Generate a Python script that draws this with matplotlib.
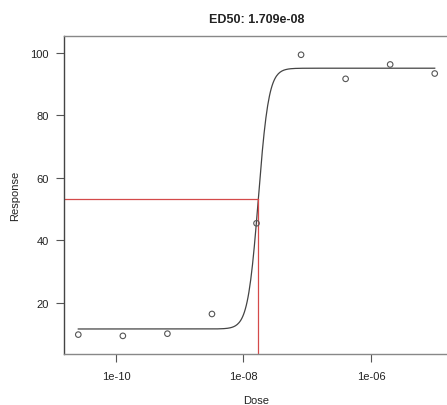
import matplotlib
matplotlib.use("Agg")
import matplotlib.pyplot as plt
import numpy as np

plt.rcParams['font.family'] = ['Liberation Sans', 'DejaVu Sans']

# measured dose / response points
dose = [2.56e-11, 1.28e-10, 6.4e-10, 3.2e-09, 1.6e-08, 8e-08, 4e-07, 2e-06, 1e-05]
response = [9.9, 9.5, 10.2, 16.5, 45.5, 99.4, 91.7, 96.3, 93.4]

# fitted 4-parameter logistic model
bottom = 11.7
top = 95.1
ed50 = 1.709e-08
hill = 5.3

xticks = [1e-10, 1e-08, 1e-06]
xticklabels = ['1e-10', '1e-08', '1e-06']
yticks = [20, 40, 60, 80, 100]

fig = plt.figure(figsize=(4.47, 4.06), dpi=100)
ax = fig.add_axes([64 / 447, 1 - 355 / 406, (449 - 64) / 447, (355 - 37) / 406])

xs = np.logspace(np.log10(dose[0]), np.log10(dose[-1]), 400)
ys = bottom + (top - bottom) / (1 + (ed50 / xs) ** hill)
ax.plot(xs, ys, color='#444444', lw=0.9)
ax.scatter(dose, response, s=16, facecolors='none', edgecolors='#555555', linewidths=0.8, zorder=3)

mid = (bottom + top) / 2
red = '#d44a4a'
ax.plot([10 ** -10.816, ed50], [mid, mid], color=red, lw=0.9)
ax.plot([ed50, ed50], [3.7, mid], color=red, lw=0.9)

ax.set_xscale('log')
ax.set_xlim(10 ** -10.816, 10 ** -4.776)
ax.set_ylim(3.7, 105.4)
ax.set_xticks(xticks)
ax.set_xticklabels(xticklabels)
ax.minorticks_off()
ax.set_yticks(yticks)

for side in ['top', 'bottom', 'right']:
    ax.spines[side].set_color('#888888')
ax.spines['left'].set_color('#444444')
for s in ax.spines.values():
    s.set_linewidth(1.0)
ax.tick_params(length=6, width=0.8, color='#555555', labelsize=8, labelcolor='#222222', pad=5)
ax.tick_params(axis='x', pad=6)

ax.set_xlabel('Dose', fontsize=8, color='#222222', labelpad=10)
ax.set_ylabel('Response', fontsize=8, color='#222222', labelpad=7)
ax.set_title('ED50: 1.709e-08', fontsize=9, fontweight='bold', color='#222222', pad=10)

fig.savefig('out.png', dpi=100)
